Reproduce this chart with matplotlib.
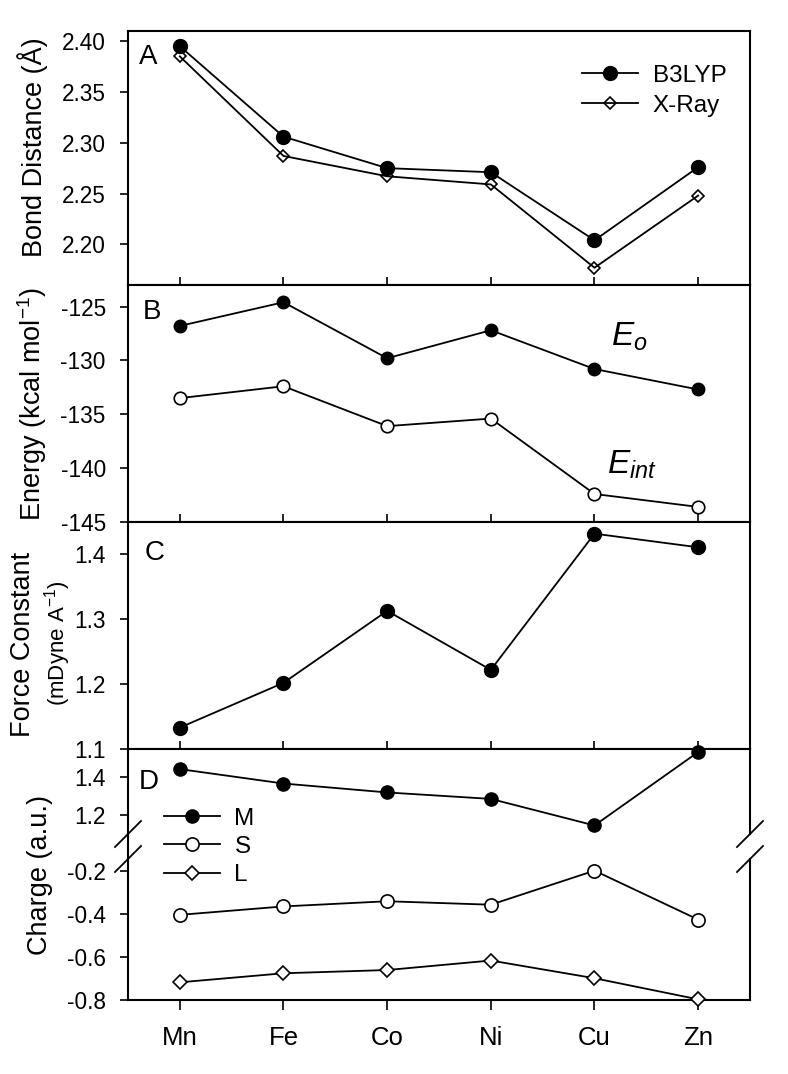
import matplotlib
matplotlib.use('Agg')
import matplotlib.pyplot as plt
from matplotlib.ticker import FormatStrFormatter, FixedLocator
from matplotlib.lines import Line2D

plt.rcParams['font.family'] = ['Liberation Sans', 'DejaVu Sans']
plt.rcParams['axes.unicode_minus'] = False
plt.rcParams['mathtext.fontset'] = 'custom'
plt.rcParams['mathtext.it'] = 'Liberation Sans:italic'
plt.rcParams['mathtext.rm'] = 'Liberation Sans'

# data
metals = ['Mn', 'Fe', 'Co', 'Ni', 'Cu', 'Zn']
bond_b3lyp = [2.395, 2.306, 2.275, 2.271, 2.204, 2.276]
bond_xray = [2.385, 2.287, 2.267, 2.259, 2.177, 2.248]
energy_eo = [-126.8, -124.6, -129.8, -127.2, -130.8, -132.7]
energy_eint = [-133.5, -132.4, -136.1, -135.4, -142.4, -143.6]
force_const = [1.133, 1.202, 1.313, 1.222, 1.432, 1.411]
charge_m = [1.44, 1.364, 1.317, 1.283, 1.143, 1.53]
charge_s = [-0.405, -0.366, -0.342, -0.358, -0.200, -0.427]
charge_l = [-0.718, -0.676, -0.661, -0.617, -0.699, -0.797]

W, H = 788, 1074
fig = plt.figure(figsize=(W / 100, H / 100), dpi=100)

L, R = 128, 750


def box(top, bottom):
    return [L / W, 1 - bottom / H, (R - L) / W, (bottom - top) / H]


def fx(px):
    return px / W


def fy(py):
    return 1 - py / H


x = list(range(len(metals)))
lw = 1.3
tick_fs = 16.3
panel_fs = 20
leg_fs = 17.5


def style(ax, bottom_in=True):
    ax.set_xlim(-0.5, 5.5)
    for s in ax.spines.values():
        s.set_linewidth(1.5)
    ax.tick_params(axis='y', direction='out', length=6, width=1.2,
                   labelsize=tick_fs, pad=10, right=False)
    ax.tick_params(axis='x', direction='in' if bottom_in else 'out',
                   length=6 if bottom_in else 7, width=1.2, top=False,
                   labelbottom=False)
    ax.xaxis.set_major_locator(FixedLocator(x))


# Panel A
axA = fig.add_axes(box(31, 285))
axA.plot(x, bond_b3lyp, '-o', color='black', lw=lw, ms=10, mfc='black',
         label='B3LYP', zorder=3)
axA.plot(x, bond_xray, '-D', color='black', lw=lw, ms=6.5, mfc='none',
         mew=1.2, label='X-Ray', zorder=3)
axA.set_ylim(2.16, 2.41)
axA.set_yticks([2.20, 2.25, 2.30, 2.35, 2.40])
axA.yaxis.set_major_formatter(FormatStrFormatter('%.2f'))
style(axA)
axA.legend(loc='center left', bbox_to_anchor=(0.73, 0.765), frameon=False,
           fontsize=leg_fs, borderpad=0, borderaxespad=0, handlelength=2.3,
           handletextpad=0.6, labelspacing=0.33)
axA.text(0.018, 0.898, 'A', transform=axA.transAxes, fontsize=panel_fs,
         va='center', ha='left')

# Panel B
axB = fig.add_axes(box(285, 522))
axB.plot(x, energy_eo, '-o', color='black', lw=lw, ms=9, mfc='black',
         zorder=3)
axB.plot(x, energy_eint, '-o', color='black', lw=lw, ms=9, mfc='white',
         mew=1.2, zorder=3)
axB.set_ylim(-145, -123)
axB.set_yticks([-145, -140, -135, -130, -125])
style(axB)
axB.text(0.024, 0.886, 'B', transform=axB.transAxes, fontsize=panel_fs,
         va='center', ha='left')
axB.text(4.16, -128.6, r'$E_{o}$', fontsize=24, va='baseline', ha='left')
axB.text(4.12, -140.5, r'$E_{int}$', fontsize=24, va='baseline', ha='left')

# Panel C
axC = fig.add_axes(box(522, 749))
axC.plot(x, force_const, '-o', color='black', lw=lw, ms=10, mfc='black',
         zorder=3)
axC.set_ylim(1.1, 1.45)
axC.set_yticks([1.1, 1.2, 1.3, 1.4])
axC.yaxis.set_major_formatter(FormatStrFormatter('%.1f'))
style(axC)
axC.text(0.027, 0.863, 'C', transform=axC.transAxes, fontsize=panel_fs,
         va='center', ha='left')

# Panel D (broken axis)
axD1 = fig.add_axes(box(749, 834))
axD2 = fig.add_axes(box(859, 1000))
hm, = axD1.plot(x, charge_m, '-o', color='black', lw=lw, ms=9.5,
                mfc='black', zorder=3, clip_on=False, label='M')
hs, = axD2.plot(x, charge_s, '-o', color='black', lw=lw, ms=9.5,
                mfc='white', mew=1.2, zorder=3, clip_on=False, label='S')
hl, = axD2.plot(x, charge_l, '-D', color='black', lw=lw, ms=7,
                mfc='white', mew=1.2, zorder=3, clip_on=False, label='L')
axD1.set_ylim(1.098, 1.546)
axD1.set_yticks([1.2, 1.4])
axD1.yaxis.set_major_formatter(FormatStrFormatter('%.1f'))
axD2.set_ylim(-0.8, -0.146)
axD2.set_yticks([-0.8, -0.6, -0.4, -0.2])
axD2.yaxis.set_major_formatter(FormatStrFormatter('%.1f'))
style(axD1)
style(axD2, bottom_in=False)
axD1.tick_params(axis='x', bottom=False)
axD1.spines['bottom'].set_visible(False)
axD2.spines['top'].set_visible(False)
axD2.tick_params(axis='x', labelbottom=True, labelsize=18.5, pad=12)
axD2.set_xticklabels(metals)
axD1.text(0.018, 0.61, 'D', transform=axD1.transAxes, fontsize=panel_fs,
          va='center', ha='left')

# continuous left spine across the break
fig.add_artist(Line2D([fx(L), fx(L)], [fy(834), fy(859)], color='black',
                      lw=1.5))
# break marks
for xc in (L, R):
    for yc in (834, 859):
        fig.add_artist(Line2D([fx(xc - 13), fx(xc + 13)],
                              [fy(yc + 13), fy(yc - 13)], color='black',
                              lw=1.3))

fig.legend(handles=[hm, hs, hl], loc='center left',
           bbox_to_anchor=(fx(164), fy(847)), frameon=False, fontsize=leg_fs,
           borderpad=0, borderaxespad=0, handlelength=2.3,
           handletextpad=0.6, labelspacing=0.25)

# y labels
fig.text(fx(33), fy(147), 'Bond Distance (Å)', rotation=90, fontsize=19.5,
         ha='center', va='center')
fig.text(fx(32), fy(404), r'Energy (kcal mol$^{\mathregular{-1}}$)',
         rotation=90, fontsize=19.5, ha='center', va='center')
fig.text(fx(23), fy(644), 'Force Constant', rotation=90, fontsize=19.5,
         ha='center', va='center')
fig.text(fx(58), fy(643), r'(mDyne A$^{\mathregular{-1}}$)', rotation=90,
         fontsize=16, ha='center', va='center')
fig.text(fx(40), fy(875), 'Charge (a.u.)', rotation=90, fontsize=19.5,
         ha='center', va='center')

fig.savefig('out.png', dpi=100)
